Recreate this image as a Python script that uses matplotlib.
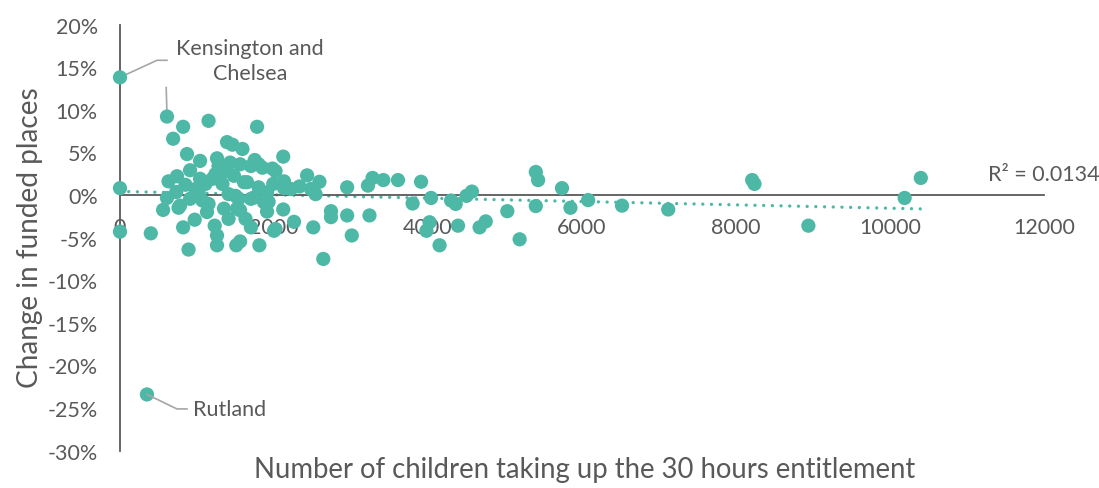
import matplotlib
matplotlib.use("Agg")
import matplotlib.pyplot as plt
import numpy as np
from matplotlib.ticker import FuncFormatter

# Local authorities: children taking up 30 hours vs change in funded places (%)
children = [
    0, 0, 0, 350, 400, 610, 820, 1150, 1780, 690,
    870, 1390, 1590, 1260, 1040, 2120, 1750, 1800, 1980, 2020,
    740, 630, 910, 2130, 1990, 2220, 610, 560, 760, 1130,
    970, 1230, 1260, 1260, 1510, 1560, 890, 820, 1810, 2120,
    2260, 2020, 2430, 2590, 2950, 3280, 3220, 3420, 3610, 3910,
    4040, 3800, 4300, 4360, 4500, 4570, 2740, 2740, 2950, 3240,
    3010, 2510, 2640, 1930, 3980, 4020, 4150, 5400, 5430, 5740,
    5400, 5850, 6080, 6520, 7120, 5030, 5190, 4750, 4670, 4390,
    8210, 8240, 8940, 10190, 10400, 980, 1200, 1330, 1410, 1540,
    1560, 1740, 1480, 1650, 1800, 1870, 780, 910, 1070, 1280,
    1430, 1560, 1700, 1850, 1020, 1350, 1460, 2330, 2480, 2540,
    1910, 2130, 1910, 1700, 2000, 1520, 1610, 1500, 1700, 1110,
    1240, 1370, 1150, 1410, 1630, 1040, 850, 730,
]
change_pct = [
    13.8, 0.8, -4.3, -23.4, -4.5, 9.2, 8.0, 8.7, 8.0, 6.6,
    4.8, 6.2, 5.4, 4.3, 4.0, 4.5, 4.1, 3.6, 3.1, 2.8,
    2.2, 1.6, 2.9, 1.6, 1.3, 0.7, -0.35, -1.75, -1.5, -2.0,
    -2.9, -3.6, -4.75, -5.9, -5.9, -5.45, -6.4, -3.8, -5.9, -1.7,
    -3.15, -4.0, 2.3, 1.55, 0.9, 2.0, 1.1, 1.75, 1.75, 1.55,
    -0.35, -1.0, -0.65, -1.05, -0.1, 0.4, -1.9, -2.6, -2.4, -2.4,
    -4.75, -3.8, -7.5, -0.8, -4.2, -3.2, -5.9, 2.7, 1.75, 0.8,
    -1.3, -1.5, -0.6, -1.25, -1.7, -1.9, -5.2, -3.1, -3.8, -3.6,
    1.75, 1.3, -3.6, -0.35, 2.0, 0.7, 1.9, 1.3, 0.1, -0.45,
    -1.8, -0.3, 2.25, 1.5, 0.9, -0.85, -1.25, -0.45, -0.65, 3.4,
    3.8, 3.6, 3.4, 3.2, 0.3, -1.6, 5.9, 1.0, 0.7, 0.1,
    0.3, 0.8, -1.95, -3.8, -4.2, -1.6, 1.5, -0.1, -0.45, 1.3,
    2.45, 2.8, -1.05, -2.8, -2.8, 1.9, 1.2, 0.35,
]

x_ticks = [0, 2000, 4000, 6000, 8000, 10000, 12000]
y_ticks = [20, 15, 10, 5, 0, -5, -10, -15, -20, -25, -30]

labelled = {"Kensington and\nChelsea": (0, 13.8), "Rutland": (350, -23.4)}
r_squared_text = "R\u00b2 = 0.0134"

teal = "#4DB8A6"
grey = "#595959"
leader = "#A6A6A6"
font = ["Lato", "DejaVu Sans"]

plt.rcParams["font.family"] = font

fig = plt.figure(figsize=(10.99, 4.89), dpi=100)
ax = fig.add_axes([120 / 1099, 37.3 / 489, 924 / 1099, 426.2 / 489])

ax.set_xlim(0, 12000)
ax.set_ylim(-30, 20)

# Spines cross at the origin
for side in ("top", "right"):
    ax.spines[side].set_visible(False)
ax.spines["left"].set_position(("data", 0))
ax.spines["bottom"].set_position(("data", 0))
for side in ("left", "bottom"):
    ax.spines[side].set_color(grey)
    ax.spines[side].set_linewidth(1.3)

ax.set_xticks(x_ticks)
ax.set_yticks(y_ticks)
ax.yaxis.set_major_formatter(FuncFormatter(lambda v, p: f"{v:.0f}%"))
ax.tick_params(axis="both", length=0, labelsize=15.5, labelcolor=grey)
ax.tick_params(axis="y", pad=16)
ax.tick_params(axis="x", pad=16)

x = np.array(children, dtype=float)
y = np.array(change_pct, dtype=float)

ax.scatter(x, y, s=105, color=teal, edgecolors="none", zorder=3, clip_on=False)

# Linear trendline across the observed range
slope, intercept = np.polyfit(x, y, 1)
xt = np.linspace(0, x.max(), 200)
ax.plot(xt, intercept + slope * xt, color=teal, linewidth=2.4,
        linestyle=(0, (0.01, 2.6)), dash_capstyle="round", zorder=2)

ax.text(12000, 1.3, r_squared_text, fontsize=15.5, color=grey,
        ha="center", va="bottom")

# Callouts for outlying authorities
kc_xy = labelled["Kensington and\nChelsea"]
ax.plot([kc_xy[0], 480, 610], [kc_xy[1], 15.8, 15.8], color=leader, lw=1.2, zorder=2)
ax.plot([600, 610], [12.6, 9.5], color=leader, lw=1.2, zorder=2)
ax.text(1690, 15.8, "Kensington and\nChelsea", fontsize=15.5, color=grey,
        ha="center", va="center", linespacing=1.35)

ru_xy = labelled["Rutland"]
ax.plot([ru_xy[0], 740, 870], [ru_xy[1], -25.1, -25.1], color=leader, lw=1.2, zorder=4)
ax.text(950, -25.1, "Rutland", fontsize=15.5, color=grey, ha="left", va="center")

fig.text(585 / 1099, 1 - 470 / 489,
         "Number of children taking up the 30 hours entitlement",
         fontsize=19.8, color=grey, ha="center", va="center")
fig.text(30 / 1099, 1 - 238 / 489, "Change in funded places",
         fontsize=20.2, color=grey, ha="center", va="center", rotation=90)

fig.savefig("out.png", dpi=100, facecolor="white")
